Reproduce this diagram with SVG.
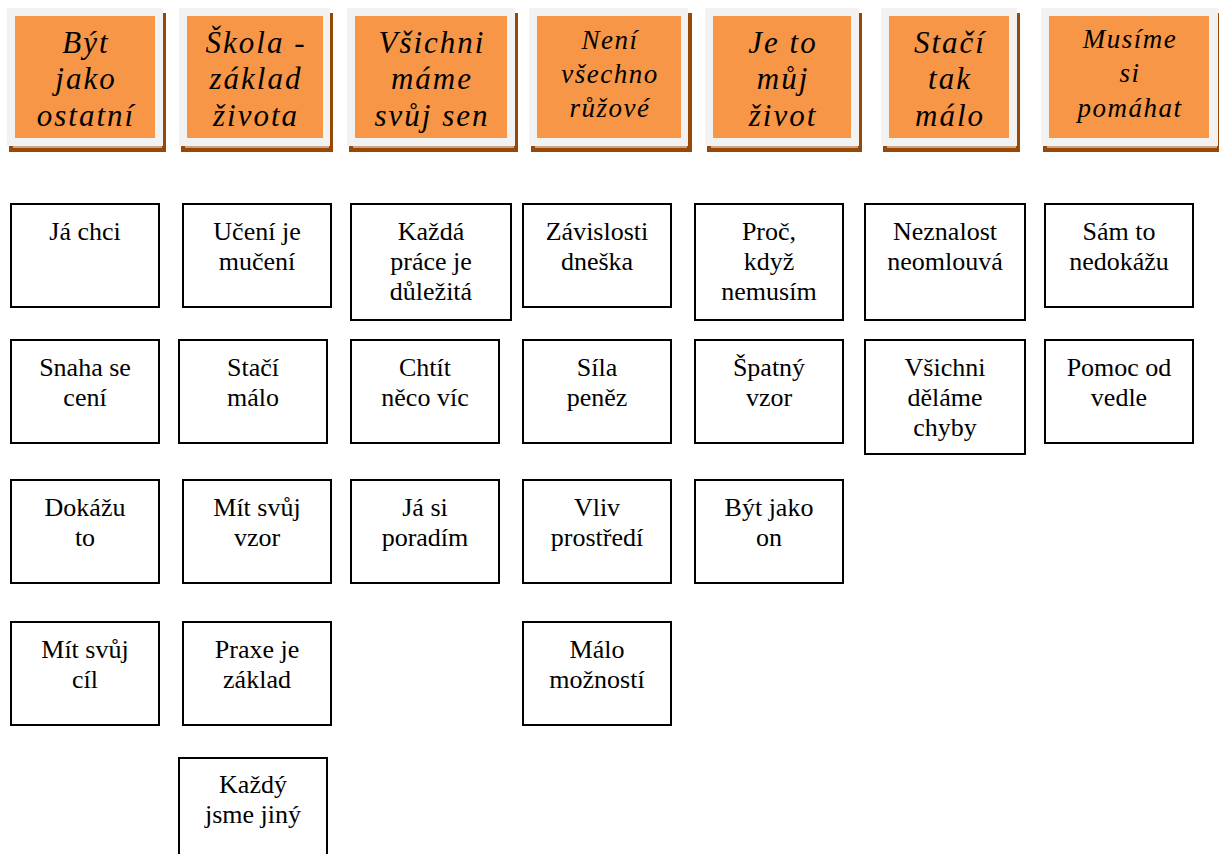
<svg xmlns="http://www.w3.org/2000/svg" width="1219" height="854" viewBox="0 0 1219 854">
<style>
.sh{fill:#984806}
.fr{fill:#f2f2f2}
.or{fill:#f79646}
.ln{stroke:#ffffff;stroke-width:1}
.ht{font-family:"Liberation Serif","Times New Roman",serif;font-style:italic;font-size:31px;letter-spacing:2px;fill:#000;text-anchor:middle}
.hs{font-size:27px;letter-spacing:1.5px}
.bx{fill:#fff;stroke:#000;stroke-width:2}
.bt{font-family:"Liberation Serif","Times New Roman",serif;font-size:26px;fill:#000;text-anchor:middle}
</style>
<rect width="1219" height="854" fill="#fff"/>
<g id="h1"><rect class="sh" x="9" y="13" width="157" height="139"/><rect class="fr" x="7" y="8" width="156" height="138"/><line class="ln" x1="13" y1="147" x2="162" y2="147"/><rect class="or" x="15" y="16" width="140" height="122"/>
<text class="ht"><tspan x="86" y="53">Být</tspan><tspan x="86" y="89">jako</tspan><tspan x="86" y="126">ostatní</tspan></text></g>
<g id="h2"><rect class="sh" x="181" y="13" width="152" height="139"/><rect class="fr" x="179" y="8" width="151" height="138"/><line class="ln" x1="185" y1="147" x2="329" y2="147"/><rect class="or" x="187" y="16" width="136" height="122"/>
<text class="ht"><tspan x="256" y="53">Škola -</tspan><tspan x="256" y="89">základ</tspan><tspan x="256" y="126">života</tspan></text></g>
<g id="h3"><rect class="sh" x="349" y="13" width="169" height="139"/><rect class="fr" x="347" y="8" width="168" height="138"/><line class="ln" x1="353" y1="147" x2="514" y2="147"/><rect class="or" x="355" y="16" width="152" height="122"/>
<text class="ht"><tspan x="432" y="53">Všichni</tspan><tspan x="432" y="89">máme</tspan><tspan x="432" y="126">svůj sen</tspan></text></g>
<g id="h4"><rect class="sh" x="531" y="13" width="161" height="139"/><rect class="fr" x="529" y="8" width="159" height="138"/><line class="ln" x1="535" y1="147" x2="687" y2="147"/><rect class="or" x="537" y="16" width="144" height="122"/>
<text class="ht hs"><tspan x="610" y="49">Není</tspan><tspan x="610" y="83">všechno</tspan><tspan x="610" y="117">růžové</tspan></text></g>
<g id="h5"><rect class="sh" x="707" y="13" width="155" height="139"/><rect class="fr" x="705" y="8" width="154" height="138"/><line class="ln" x1="711" y1="147" x2="858" y2="147"/><rect class="or" x="713" y="16" width="138" height="122"/>
<text class="ht"><tspan x="783" y="53">Je to</tspan><tspan x="783" y="89">můj</tspan><tspan x="783" y="126">život</tspan></text></g>
<g id="h6"><rect class="sh" x="883" y="13" width="137" height="139"/><rect class="fr" x="881" y="8" width="136" height="138"/><line class="ln" x1="887" y1="147" x2="1016" y2="147"/><rect class="or" x="889" y="16" width="120" height="122"/>
<text class="ht"><tspan x="950" y="53">Stačí</tspan><tspan x="950" y="89">tak</tspan><tspan x="950" y="126">málo</tspan></text></g>
<g id="h7"><rect class="sh" x="1043" y="13" width="176" height="139"/><rect class="fr" x="1041" y="8" width="177" height="138"/><line class="ln" x1="1047" y1="147" x2="1217" y2="147"/><rect class="or" x="1049" y="16" width="160" height="122"/>
<text class="ht hs"><tspan x="1130" y="48">Musíme</tspan><tspan x="1130" y="82">si</tspan><tspan x="1130" y="117">pomáhat</tspan></text></g>

<g id="connectors"></g>

<g id="n-ja-chci"><rect class="bx" x="11" y="204" width="148" height="103"/><text class="bt"><tspan x="85" y="240">Já chci</tspan></text></g>
<g id="n-uceni"><rect class="bx" x="183" y="204" width="148" height="103"/><text class="bt"><tspan x="257" y="240">Učení je</tspan><tspan x="257" y="270">mučení</tspan></text></g>
<g id="n-kazda-prace"><rect class="bx" x="351" y="204" width="160" height="116"/><text class="bt"><tspan x="431" y="240">Každá</tspan><tspan x="431" y="270">práce je</tspan><tspan x="431" y="300">důležitá</tspan></text></g>
<g id="n-zavislosti"><rect class="bx" x="523" y="204" width="148" height="103"/><text class="bt"><tspan x="597" y="240">Závislosti</tspan><tspan x="597" y="270">dneška</tspan></text></g>
<g id="n-proc"><rect class="bx" x="695" y="204" width="148" height="116"/><text class="bt"><tspan x="769" y="240">Proč,</tspan><tspan x="769" y="270">když</tspan><tspan x="769" y="300">nemusím</tspan></text></g>
<g id="n-neznalost"><rect class="bx" x="865" y="204" width="160" height="116"/><text class="bt"><tspan x="945" y="240">Neznalost</tspan><tspan x="945" y="270">neomlouvá</tspan></text></g>
<g id="n-sam-to"><rect class="bx" x="1045" y="204" width="148" height="103"/><text class="bt"><tspan x="1119" y="240">Sám to</tspan><tspan x="1119" y="270">nedokážu</tspan></text></g>

<g id="n-snaha"><rect class="bx" x="11" y="340" width="148" height="103"/><text class="bt"><tspan x="85" y="376">Snaha se</tspan><tspan x="85" y="406">cení</tspan></text></g>
<g id="n-staci-malo"><rect class="bx" x="179" y="340" width="148" height="103"/><text class="bt"><tspan x="253" y="376">Stačí</tspan><tspan x="253" y="406">málo</tspan></text></g>
<g id="n-chtit"><rect class="bx" x="351" y="340" width="148" height="103"/><text class="bt"><tspan x="425" y="376">Chtít</tspan><tspan x="425" y="406">něco víc</tspan></text></g>
<g id="n-sila"><rect class="bx" x="523" y="340" width="148" height="103"/><text class="bt"><tspan x="597" y="376">Síla</tspan><tspan x="597" y="406">peněz</tspan></text></g>
<g id="n-spatny"><rect class="bx" x="695" y="340" width="148" height="103"/><text class="bt"><tspan x="769" y="376">Špatný</tspan><tspan x="769" y="406">vzor</tspan></text></g>
<g id="n-vsichni"><rect class="bx" x="865" y="340" width="160" height="114"/><text class="bt"><tspan x="945" y="376">Všichni</tspan><tspan x="945" y="406">děláme</tspan><tspan x="945" y="436">chyby</tspan></text></g>
<g id="n-pomoc"><rect class="bx" x="1045" y="340" width="148" height="103"/><text class="bt"><tspan x="1119" y="376">Pomoc od</tspan><tspan x="1119" y="406">vedle</tspan></text></g>

<g id="n-dokazu"><rect class="bx" x="11" y="480" width="148" height="103"/><text class="bt"><tspan x="85" y="516">Dokážu</tspan><tspan x="85" y="546">to</tspan></text></g>
<g id="n-mit-vzor"><rect class="bx" x="183" y="480" width="148" height="103"/><text class="bt"><tspan x="257" y="516">Mít svůj</tspan><tspan x="257" y="546">vzor</tspan></text></g>
<g id="n-poradim"><rect class="bx" x="351" y="480" width="148" height="103"/><text class="bt"><tspan x="425" y="516">Já si</tspan><tspan x="425" y="546">poradím</tspan></text></g>
<g id="n-vliv"><rect class="bx" x="523" y="480" width="148" height="103"/><text class="bt"><tspan x="597" y="516">Vliv</tspan><tspan x="597" y="546">prostředí</tspan></text></g>
<g id="n-byt-jako-on"><rect class="bx" x="695" y="480" width="148" height="103"/><text class="bt"><tspan x="769" y="516">Být jako</tspan><tspan x="769" y="546">on</tspan></text></g>

<g id="n-mit-cil"><rect class="bx" x="11" y="622" width="148" height="103"/><text class="bt"><tspan x="85" y="658">Mít svůj</tspan><tspan x="85" y="688">cíl</tspan></text></g>
<g id="n-praxe"><rect class="bx" x="183" y="622" width="148" height="103"/><text class="bt"><tspan x="257" y="658">Praxe je</tspan><tspan x="257" y="688">základ</tspan></text></g>
<g id="n-malo-moznosti"><rect class="bx" x="523" y="622" width="148" height="103"/><text class="bt"><tspan x="597" y="658">Málo</tspan><tspan x="597" y="688">možností</tspan></text></g>

<g id="n-kazdy"><rect class="bx" x="179" y="758" width="148" height="110"/><text class="bt"><tspan x="253" y="793">Každý</tspan><tspan x="253" y="823">jsme jiný</tspan></text></g>
</svg>
